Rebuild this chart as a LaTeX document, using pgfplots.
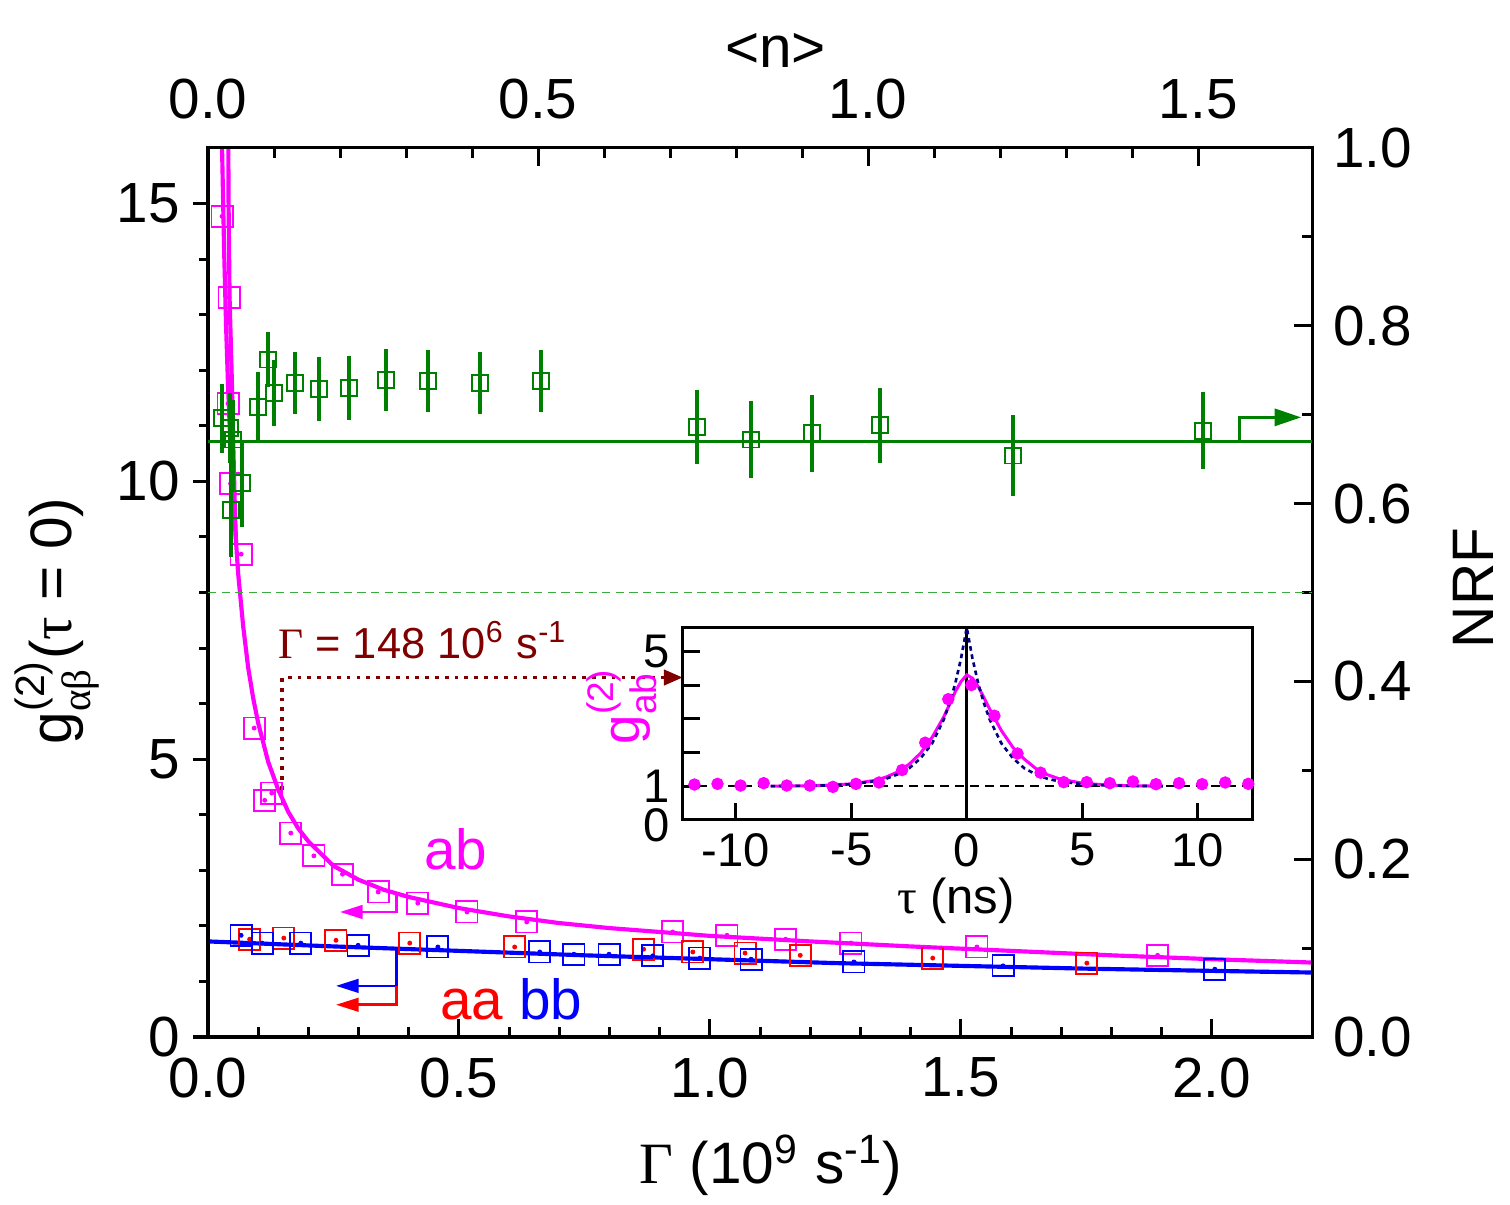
\documentclass[border=0pt]{standalone}
\usepackage{pgfplots}
\pgfplotsset{compat=1.18}
\usepackage{pgfplotstable}
\usepackage{amsmath}
\usepackage{fontspec}
\setmainfont{Liberation Sans}
\newfontfamily\grk{Liberation Serif}
\usetikzlibrary{arrows.meta}

\definecolor{mag}{RGB}{255,0,255}
\definecolor{grn}{RGB}{0,128,0}
\definecolor{lgrn}{RGB}{60,170,60}
\definecolor{blu}{RGB}{0,0,255}
\definecolor{rd}{RGB}{255,0,0}
\definecolor{dred}{RGB}{128,0,0}
\definecolor{navy}{RGB}{0,0,128}

% open square with a small dot at its centre
\pgfdeclareplotmark{sqdot}{%
  \pgfpathrectangle{\pgfqpoint{-\pgfplotmarksize}{-\pgfplotmarksize}}%
                   {\pgfqpoint{2\pgfplotmarksize}{2\pgfplotmarksize}}%
  \pgfusepathqstroke
  \pgfpathcircle{\pgfpointorigin}{0.65pt}%
  \pgfusepathqfill}

\newcommand\tickfont{\fontsize{15}{18}\selectfont}
\newcommand\labfont{\fontsize{15.5}{18}\selectfont}

\pgfplotsset{
  frame/.style={
    at={(0,0)}, anchor=south west,
    scale only axis, width=292.5pt, height=235.5pt,
    xmin=0, xmax=2.2,
    axis line style={line width=0.8pt},
    every tick/.style={black, line width=0.8pt},
    major tick length=4.8pt, minor tick length=2.6pt,
    tick label style={font=\tickfont},
    label style={font=\labfont},
    /pgf/number format/assume math mode=true,
  },
}

% g2_ab(tau=0) versus Gamma
\pgfplotstableread{
G g
0.028 14.77
0.042 13.31
0.040 11.40
0.045 9.96
0.066 8.69
0.092 5.56
0.113 4.26
0.127 4.39
0.165 3.67
0.211 3.26
0.268 2.93
0.339 2.61
0.418 2.41
0.516 2.25
0.635 2.07
0.926 1.89
1.034 1.83
1.151 1.76
1.281 1.69
1.532 1.62
1.892 1.47
}\abdata

% g2_aa(tau=0)
\pgfplotstableread{
G g
0.083 1.76
0.151 1.78
0.255 1.74
0.402 1.69
0.611 1.62
0.868 1.58
0.966 1.53
1.070 1.51
1.180 1.47
1.444 1.42
1.751 1.33
}\aadata

% g2_bb(tau=0)
\pgfplotstableread{
G g
0.066 1.83
0.108 1.69
0.185 1.69
0.299 1.65
0.458 1.62
0.661 1.53
0.729 1.49
0.799 1.49
0.886 1.46
0.980 1.42
1.082 1.40
1.287 1.35
1.584 1.28
2.006 1.22
}\bbdata

% noise reduction factor
\pgfplotstableread{
G N E
0.0285 0.696 0.039
0.0438 0.685 0.039
0.0498 0.672 0.044
0.0683 0.623 0.049
0.0452 0.593 0.053
0.0998 0.709 0.039
0.1195 0.762 0.031
0.1321 0.724 0.037
0.173 0.736 0.035
0.221 0.729 0.036
0.281 0.730 0.036
0.355 0.739 0.035
0.438 0.738 0.035
0.542 0.736 0.035
0.663 0.738 0.035
0.974 0.686 0.042
1.082 0.672 0.043
1.203 0.679 0.043
1.339 0.688 0.042
1.604 0.654 0.046
1.982 0.682 0.043
}\nrfdata

% g2_ab(tau) correlation histogram
\pgfplotstableread{
t g
-11.8 1.05
-10.8 1.07
-9.8 1.02
-8.8 1.09
-7.8 1.02
-6.8 1.02
-5.8 0.98
-4.8 1.07
-3.8 1.11
-2.8 1.48
-1.8 2.29
-0.8 3.58
0.2 4.00
1.2 3.09
2.2 1.97
3.2 1.40
4.2 1.12
5.2 1.12
6.2 1.09
7.2 1.14
8.2 1.06
9.2 1.09
10.2 1.06
11.2 1.11
12.2 1.07
}\taudata

\begin{document}
\begin{tikzpicture}

% main frame: Gamma axis and g2 curves
\begin{axis}[frame, name=main,
  ymin=0, ymax=16,
  tick align=inside,
  xtick={0,0.5,1,1.5,2}, minor x tick num=4, xtick pos=bottom,
  ytick=\empty,
  xticklabel style={yshift=-2pt},
  /pgf/number format/fixed, /pgf/number format/fixed zerofill,
  /pgf/number format/precision=1,
  xlabel={{\grk Γ} (10\textsuperscript{9} s\textsuperscript{-1})},
  xlabel style={at={(axis description cs:0.51,-0.144)}, anchor=center},
]
  % fitted curves for ab
  \addplot[mag, line width=1.1pt] coordinates {
    (0.024,18.4) (0.028,16.0) (0.032,14.2) (0.036,12.8) (0.040,11.7)
    (0.045,10.6) (0.050,9.7) (0.060,8.35) (0.070,7.4) (0.080,6.65)
    (0.090,6.1) (0.100,5.65) (0.120,4.95) (0.140,4.45) (0.160,4.05)
    (0.180,3.75) (0.200,3.52) (0.250,3.08) (0.300,2.83) (0.350,2.65)
    (0.400,2.52) (0.500,2.32) (0.600,2.17) (0.700,2.05) (0.800,1.96)
    (1.000,1.82) (1.200,1.72) (1.400,1.63) (1.600,1.55) (1.800,1.47)
    (2.000,1.40) (2.200,1.34)};
  \addplot[mag, line width=1.1pt] coordinates {
    (0.040,17.0) (0.041,15.0) (0.043,13.3) (0.047,12.0) (0.050,10.8)
    (0.053,9.7) (0.056,8.85)};
  % common fit for aa and bb
  \addplot[blu, line width=1.1pt] coordinates {
    (0,1.72) (0.25,1.63) (0.5,1.55) (0.75,1.47) (1.0,1.40) (1.25,1.33)
    (1.5,1.28) (1.75,1.23) (2.0,1.19) (2.2,1.16)};

  \addplot[only marks, mark=sqdot, mark size=2.8pt, color=mag,
    mark options={line width=0.5pt}] table {\abdata};
  \addplot[only marks, mark=sqdot, mark size=2.8pt, color=rd,
    mark options={line width=0.5pt}] table {\aadata};
  \addplot[only marks, mark=sqdot, mark size=2.8pt, color=blu,
    mark options={line width=0.5pt}] table {\bbdata};

  % axis pointers
  \draw[mag, line width=0.7pt, -{Triangle[length=6pt,width=3.6pt]}]
    (axis cs:0.376,2.59) |- (axis cs:0.263,2.25);
  \draw[blu, line width=0.7pt, -{Triangle[length=6pt,width=3.6pt]}]
    (axis cs:0.376,1.56) |- (axis cs:0.255,0.92);
  \draw[rd, line width=0.7pt, -{Triangle[length=6pt,width=3.6pt]}]
    (axis cs:0.376,0.92) |- (axis cs:0.255,0.58);

  \node[mag, font=\fontsize{15}{18}\selectfont] at (axis cs:0.494,3.38) {ab};
  \node[font=\fontsize{15}{18}\selectfont] at (axis cs:0.604,0.68)
    {\textcolor{rd}{aa} \textcolor{blu}{bb}};

  % marker for the rate used in the inset
  \draw[dred, line width=1pt, dash pattern=on 1pt off 1.6pt,
    -{Triangle[length=5pt,width=4pt]}]
    (axis cs:0.148,4.45) -- (axis cs:0.148,6.47) -- (axis cs:0.946,6.47);
  \node[dred, font=\fontsize{11.5}{14}\selectfont] at (axis cs:0.428,7.14)
    {{\grk Γ} = 148 10\textsuperscript{6} s\textsuperscript{-1}};
\end{axis}

% left g2 scale
\begin{axis}[frame,
  ymin=0, ymax=16, hide x axis, axis y line*=left, tick align=outside,
  ytick={0,5,10,15}, minor y tick num=4,
  major tick length=4pt, minor tick length=2.4pt,
  ylabel={g$^{\text{(2)}}_{\text{\grk αβ}}$({\grk τ} = 0)},
  ylabel style={at={(axis description cs:-0.137,0.468)}, anchor=center},
]
\end{axis}

% right NRF scale
\begin{axis}[frame,
  ymin=0, ymax=1, hide x axis, axis y line*=right, tick align=inside,
  ytick={0,0.2,0.4,0.6,0.8,1}, minor y tick num=1,
  yticklabel style={xshift=2pt},
  /pgf/number format/fixed, /pgf/number format/fixed zerofill,
  /pgf/number format/precision=1,
  ylabel={NRF},
  ylabel style={at={(axis description cs:1.146,0.505)}, anchor=center},
]
  \addplot[lgrn, line width=0.5pt, dash pattern=on 2.2pt off 1.4pt]
    coordinates {(0,0.5) (2.2,0.5)};
  \addplot[grn, line width=0.9pt] coordinates {(0,0.670) (2.2,0.670)};
  \addplot[grn, only marks, mark=square, mark size=2.1pt,
    mark options={line width=0.5pt},
    error bars/.cd, y dir=both, y explicit, error mark=none,
    error bar style={line width=1pt}]
    table[x=G, y=N, y error=E] {\nrfdata};
  \draw[grn, line width=0.8pt, -{Triangle[length=7pt,width=4.5pt]}]
    (axis cs:2.056,0.670) |- (axis cs:2.178,0.697);
\end{axis}

% top photon number scale
\begin{axis}[frame,
  xmin=0, xmax=1.6727, ymin=0, ymax=1,
  hide y axis, axis x line*=top, tick align=inside,
  xtick={0,0.5,1,1.5}, minor x tick num=4,
  xticklabel style={yshift=4pt},
  /pgf/number format/fixed, /pgf/number format/fixed zerofill,
  /pgf/number format/precision=1,
  xlabel={<n>},
  xlabel style={at={(axis description cs:0.514,1.110)}, anchor=center},
]
\end{axis}

% inset: g2_ab(tau)
\begin{axis}[at={(125.8pt,57.5pt)}, anchor=south west,
  scale only axis, width=151pt, height=51.1pt,
  xmin=-12.3, xmax=12.4, ymin=0, ymax=5.72,
  axis background/.style={fill=white},
  axis line style={line width=0.8pt},
  every tick/.style={black, line width=0.8pt},
  tick align=inside, major tick length=4.6pt,
  xtick={-10,-5,0,5,10},
  ytick={1,2,3,4,5}, yticklabels={1,,,,5},
  extra y ticks={0}, extra y tick labels={0},
  extra y tick style={yticklabel style={yshift=-1.5pt}},
  xtick pos=bottom, ytick pos=left,
  tick label style={font=\fontsize{12.5}{15}\selectfont},
  yticklabel style={inner ysep=0pt},
  /pgf/number format/assume math mode=true,
  xlabel={{\grk τ} (ns)},
  xlabel style={font=\fontsize{13}{15}\selectfont,
    at={(axis description cs:0.479,-0.42)}, anchor=center},
  ylabel={\textcolor{mag}{g$^{\text{(2)}}_{\text{ab}}$}},
  ylabel style={font=\fontsize{14}{16}\selectfont,
    at={(axis description cs:-0.107,0.59)}, anchor=center},
]
  \addplot[black, line width=0.6pt, dash pattern=on 2.4pt off 1.6pt]
    coordinates {(-12.3,1) (12.4,1)};
  \addplot[black, line width=0.8pt] coordinates {(0,0) (0,5.72)};
  \addplot[mag, line width=0.8pt] coordinates {
    (-8.5,1.0) (-7,1.01) (-6,1.03) (-5,1.07) (-4,1.17) (-3.5,1.27)
    (-3,1.42) (-2.5,1.65) (-2,1.98) (-1.5,2.45) (-1,3.05) (-0.75,3.42)
    (-0.5,3.8) (-0.25,4.1) (0,4.3) (0.25,4.2) (0.5,3.95) (0.75,3.62)
    (1,3.28) (1.5,2.65) (2,2.15) (2.5,1.8) (3,1.52) (3.5,1.34) (4,1.22)
    (5,1.09) (6,1.04) (7,1.015) (8.5,1.0)};
  \addplot[navy, line width=0.7pt, dash pattern=on 1.2pt off 1pt] coordinates {
    (-8.5,1.003) (-7,1.01) (-6,1.025) (-5,1.06) (-4,1.145) (-3.5,1.22)
    (-3,1.35) (-2.5,1.53) (-2,1.83) (-1.5,2.27) (-1,2.97) (-0.75,3.45)
    (-0.5,4.04) (-0.25,4.78) (0,5.7) (0.25,4.78) (0.5,4.04) (0.75,3.45)
    (1,2.97) (1.5,2.27) (2,1.83) (2.5,1.53) (3,1.35) (3.5,1.22) (4,1.145)
    (5,1.06) (6,1.025) (7,1.01) (8.5,1.003)};
  \addplot[only marks, mark=*, mark size=1.45pt, color=mag] table {\taudata};
\end{axis}

\pgfresetboundingbox
\path[use as bounding box] (-55.1pt,-44.5pt) rectangle (344.9pt,274.7pt);
\end{tikzpicture}
\end{document}
